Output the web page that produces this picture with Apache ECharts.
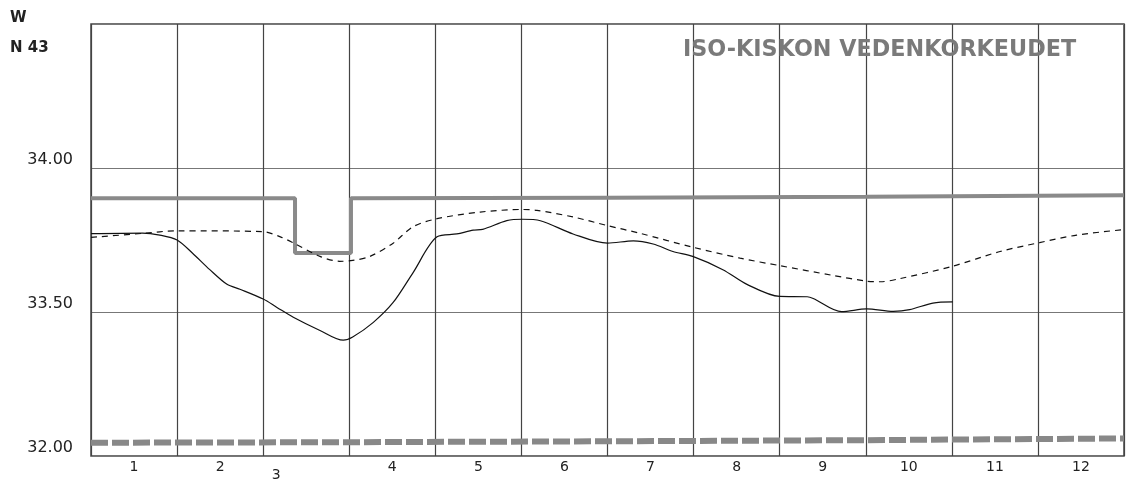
<!DOCTYPE html>
<html>
<head>
<meta charset="utf-8">
<script src="https://cdn.jsdelivr.net/npm/echarts@6/dist/echarts.min.js"></script>
<style>
  html, body { margin: 0; padding: 0; background: #fff; }
  #chart { width: 1132px; height: 482px; }
</style>
</head>
<body>
<div id="chart"></div>
<script>
// ---- data (month position 0..12, water level N43 m) ----
const months = ['1','2','3','4','5','6','7','8','9','10','11','12'];

// regulation upper limit (thick grey step line)
const upperLimit = [
  [0, 33.895], [2.37, 33.895], [2.37, 33.705], [3.02, 33.705],
  [3.02, 33.895], [6, 33.897], [9, 33.900], [12, 33.905]
];

// mean level (dashed)
const meanLevel = [
  [0, 33.759], [0.6, 33.773], [1.0, 33.782], [2.0, 33.779], [2.2, 33.761],
  [2.35, 33.740], [2.66, 33.693], [2.89, 33.676], [3.04, 33.679], [3.24, 33.693],
  [3.51, 33.739], [3.74, 33.796], [4.02, 33.824], [4.52, 33.847], [5.01, 33.856],
  [5.18, 33.853], [5.6, 33.830], [6.0, 33.800], [6.38, 33.773], [6.99, 33.725],
  [7.54, 33.687], [8.0, 33.661], [8.62, 33.627], [9.01, 33.607], [9.17, 33.605],
  [9.4, 33.616], [10.01, 33.659], [10.56, 33.710], [11.02, 33.741], [11.45, 33.767],
  [11.99, 33.786]
];

// observed level of the year (solid)
const yearLevel = [
  [0, 33.772], [0.6, 33.774], [0.8, 33.767], [1.0, 33.750], [1.18, 33.704],
  [1.38, 33.647], [1.58, 33.596], [1.73, 33.579], [2.0, 33.545], [2.16, 33.516],
  [2.35, 33.482], [2.66, 33.436], [2.93, 33.402], [3.04, 33.413], [3.28, 33.464],
  [3.51, 33.533], [3.74, 33.636], [4.02, 33.761], [4.25, 33.771], [4.44, 33.784],
  [4.55, 33.787], [4.83, 33.817], [5.01, 33.822], [5.22, 33.817], [5.6, 33.771],
  [6.0, 33.739], [6.3, 33.747], [6.53, 33.736], [6.76, 33.710], [6.99, 33.693],
  [7.34, 33.647], [7.62, 33.596], [8.0, 33.554], [8.32, 33.553], [8.39, 33.547],
  [8.72, 33.501], [9.01, 33.511], [9.32, 33.502], [9.51, 33.508], [9.78, 33.531],
  [10.01, 33.535]
];

// lower limit (thick grey dashed, below the axis break)
const lowerLimit = [
  [0, 32.046], [3, 32.048], [6, 32.051], [9, 32.055], [12, 32.061]
];

const yTickLabels = { '34': '34.00', '33.5': '33.50', '33': '32.00' };

// broken y axis: values below 33.00 are drawn in the band just above the axis bottom (32.00)
function toAxis(v) { return v < 33 ? v + 1 : v; }
function mapSeries(arr) { return arr.map(p => [p[0], toAxis(p[1])]); }

const chart = echarts.init(document.getElementById('chart'), null, { renderer: 'canvas' });
const FONT = 'DejaVu Sans';

chart.setOption({
  backgroundColor: '#ffffff',
  animation: false,
  title: [
    { text: 'W', left: 10, top: 11, padding: 0,
      textStyle: { fontFamily: FONT, fontSize: 15, fontWeight: 'bold', color: '#222' } },
    { text: 'N 43', left: 10, top: 41, padding: 0,
      textStyle: { fontFamily: FONT, fontSize: 15, fontWeight: 'bold', color: '#222' } },
    { text: 'ISO-KISKON VEDENKORKEUDET', left: 683, top: 39, padding: 0,
      textStyle: { fontFamily: FONT, fontSize: 22.3, fontWeight: 'bold', color: '#7a7a7a' } }
  ],
  grid: {
    left: 91, right: 8, top: 24, height: 433,
    show: true, borderColor: '#444', borderWidth: 1.5, backgroundColor: 'transparent'
  },
  xAxis: [
    {
      type: 'value', min: 0, max: 12, interval: 1,
      axisLine: { show: false }, axisTick: { show: false }, axisLabel: { show: false },
      splitLine: { show: true, lineStyle: { color: '#444', width: 1.2 } }
    },
    {
      type: 'category', data: months, boundaryGap: true, position: 'bottom',
      axisLine: { show: false }, axisTick: { show: false }, splitLine: { show: false },
      axisLabel: {
        margin: 4, fontFamily: FONT, fontSize: 14, color: '#222',
        formatter: v => v === '3' ? '{s|3}' : v,
        rich: { s: { fontFamily: FONT, fontSize: 14, color: '#222', padding: [8, 60, 0, 0] } }
      }
    }
  ],
  yAxis: {
    type: 'value', min: 33, max: 34.5, interval: 0.5,
    axisLine: { show: false }, axisTick: { show: false },
    axisLabel: {
      margin: 18, fontFamily: FONT, fontSize: 16, color: '#222', verticalAlign: 'bottom',
      formatter: v => yTickLabels[String(v)] || ''
    },
    splitLine: { show: true, lineStyle: { color: '#777', width: 1 } }
  },
  series: [
    {
      type: 'line', name: 'yläraja', data: mapSeries(upperLimit), xAxisIndex: 0,
      showSymbol: false, lineStyle: { color: '#8a8a8a', width: 4 }, z: 3
    },
    {
      type: 'line', name: 'keskiarvo', data: mapSeries(meanLevel), xAxisIndex: 0,
      smooth: 0.3, showSymbol: false, lineStyle: { color: '#111', width: 1.2, type: [6, 5] }, z: 4
    },
    {
      type: 'line', name: 'vedenkorkeus', data: mapSeries(yearLevel), xAxisIndex: 0,
      smooth: 0.3, showSymbol: false, lineStyle: { color: '#111', width: 1.2 }, z: 5
    },
    {
      type: 'line', name: 'alaraja', data: mapSeries(lowerLimit), xAxisIndex: 0,
      showSymbol: false, lineStyle: { color: '#888', width: 6, type: [17, 4] }, z: 3
    }
  ]
});
</script>
</body>
</html>
